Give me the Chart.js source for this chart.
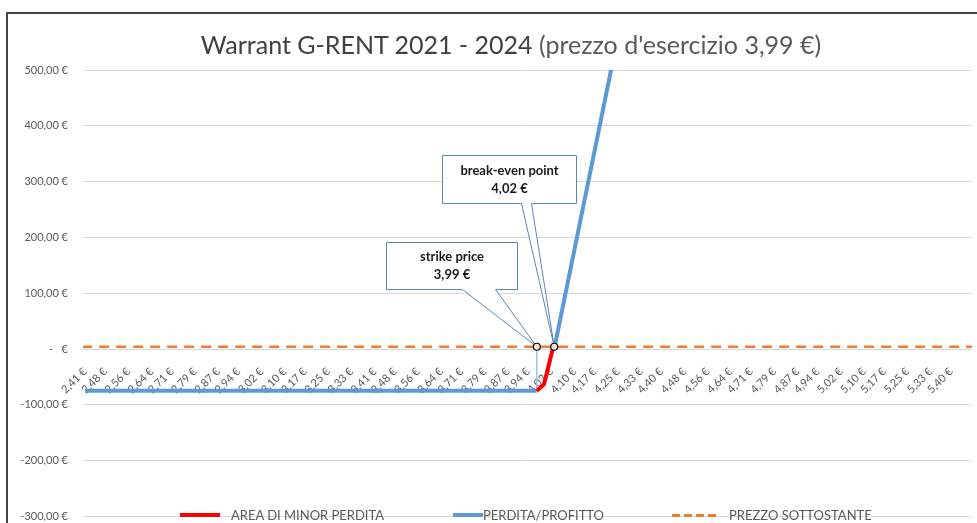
<!DOCTYPE html>
<html>
<head>
<meta charset="utf-8">
<script src="https://cdn.jsdelivr.net/npm/chart.js@4.4.0/dist/chart.umd.min.js"></script>
<style>
html, body { margin: 0; padding: 0; background: #fff; }
#wrap { position: relative; width: 977px; height: 523px; overflow: hidden; font-family: Lato, "Open Sans", sans-serif; }
#frame { position: absolute; left: 6px; top: 12px; width: 990px; height: 530px; border-left: 2px solid #444; border-top: 2px solid #444; }
#chart { position: absolute; left: 0; top: 0; }
#title { position: absolute; left: 0; top: 29px; width: 1022px; text-align: center; font-size: 25px; line-height: 30px; color: #595959; white-space: nowrap; }
#title .main { color: #404040; }
.leg { position: absolute; top: 507px; height: 16px; font-size: 13px; line-height: 16px; color: #595959; white-space: nowrap; display: flex; align-items: center; }
.leg .sw { display: inline-block; height: 4px; }
</style>
</head>
<body>
<div id="wrap">
  <canvas id="chart" width="977" height="538"></canvas>
  <div id="frame"></div>
  <div id="title"><span class="main">Warrant G-RENT 2021 - 2024</span> (prezzo d'esercizio 3,99 €)</div>
  <div class="leg" style="left:180px"><span class="sw" style="width:40px;background:#FF0000;margin-right:11px"></span>AREA DI MINOR PERDITA</div>
  <div class="leg" style="left:453px"><span class="sw" style="width:30px;background:#5B9BD5"></span>PERDITA/PROFITTO</div>
  <div class="leg" style="left:672px"><span class="sw" style="width:48px;height:3px;background:repeating-linear-gradient(to right,#ED7D31 0 8px,transparent 8px 12px);margin-right:9px"></span>PREZZO SOTTOSTANTE</div>
</div>
<script>
// prezzi del sottostante mostrati sull'asse
const tickLabels = ['2,41 €', '2,48 €', '2,56 €', '2,64 €', '2,71 €', '2,79 €', '2,87 €', '2,94 €',
  '3,02 €', '3,10 €', '3,17 €', '3,25 €', '3,33 €', '3,41 €', '3,48 €', '3,56 €', '3,64 €', '3,71 €',
  '3,79 €', '3,87 €', '3,94 €', '4,02 €', '4,10 €', '4,17 €', '4,25 €', '4,33 €', '4,40 €', '4,48 €',
  '4,56 €', '4,64 €', '4,71 €', '4,79 €', '4,87 €', '4,94 €', '5,02 €', '5,10 €', '5,17 €', '5,25 €',
  '5,33 €', '5,40 €'];
const tickValues = tickLabels.map(function (t) { return parseFloat(t.replace(',', '.')); });

const perditaProfitto = [
  { x: 2.41, y: -75 }, { x: 3.97, y: -75 }, { x: 4.00, y: null },
  { x: 4.03, y: 0 }, { x: 4.25, y: 560 }
];
const areaMinorPerdita = [{ x: 3.97, y: -75 }, { x: 3.995, y: -63 }, { x: 4.025, y: 0 }];
const prezzoSottostante = [{ x: 2.40, y: 4 }, { x: 5.48, y: 4 }];
const puntiChiave = [{ x: 3.97, y: 4 }, { x: 4.03, y: 4 }];

// fumetti
const callouts = [
  { x: 3.97, y: 4, text: ['strike price', '3,99 €'], dx: -151, dy: -105, w: 131, h: 47, b0: 76, b1: 109, drop: -75 },
  { x: 4.03, y: 4, text: ['break-even point', '4,02 €'], dx: -112, dy: -192, w: 134, h: 48, b0: 79, b1: 89 }
];

const calloutPlugin = {
  id: 'callouts',
  beforeDatasetsDraw: function (chart) {
    const ctx = chart.ctx;
    const xs = chart.scales.x, ys = chart.scales.y;
    ctx.save();
    callouts.forEach(function (c) {
      const px = xs.getPixelForValue(c.x), py = ys.getPixelForValue(c.y);
      if (c.drop !== undefined) {
        ctx.strokeStyle = '#9DC3E6';
        ctx.lineWidth = 1.5;
        ctx.beginPath();
        ctx.moveTo(px, py);
        ctx.lineTo(px, ys.getPixelForValue(c.drop));
        ctx.stroke();
      }
      const left = Math.round(px + c.dx) + 0.5, top = Math.round(py + c.dy) + 0.5;
      ctx.fillStyle = '#fff';
      ctx.strokeStyle = '#5B86B5';
      ctx.lineWidth = 1;
      ctx.beginPath();
      ctx.moveTo(left, top);
      ctx.lineTo(left + c.w, top);
      ctx.lineTo(left + c.w, top + c.h);
      ctx.lineTo(left + c.b1, top + c.h);
      ctx.lineTo(px, py);
      ctx.lineTo(left + c.b0, top + c.h);
      ctx.lineTo(left, top + c.h);
      ctx.closePath();
      ctx.fill();
      ctx.stroke();
      ctx.fillStyle = '#1a1a1a';
      ctx.font = 'bold 13px Lato';
      ctx.textAlign = 'center';
      ctx.textBaseline = 'middle';
      ctx.fillText(c.text[0], left + c.w / 2, top + c.h / 2 - 9);
      ctx.fillText(c.text[1], left + c.w / 2, top + c.h / 2 + 9);
    });
    ctx.restore();
  }
};

Chart.defaults.font.family = 'Lato';
Chart.defaults.color = '#595959';

new Chart(document.getElementById('chart'), {
  type: 'line',
  data: {
    datasets: [
      {
        label: 'punti', data: puntiChiave, showLine: false, order: -1,
        pointRadius: 3.5, pointBackgroundColor: '#FBE5D6', pointBorderColor: '#000', pointBorderWidth: 1.2
      },
      {
        label: 'AREA DI MINOR PERDITA', data: areaMinorPerdita, order: 0,
        borderColor: '#FF0000', borderWidth: 4, pointRadius: 0
      },
      {
        label: 'PERDITA/PROFITTO', data: perditaProfitto, order: 1, spanGaps: false,
        borderColor: '#5B9BD5', borderWidth: 4, pointRadius: 0
      },
      {
        label: 'PREZZO SOTTOSTANTE', data: prezzoSottostante, order: 2,
        borderColor: '#ED7D31', borderWidth: 2.5, borderDash: [10, 7], pointRadius: 0
      }
    ]
  },
  options: {
    responsive: false,
    animation: false,
    devicePixelRatio: 1,
    layout: { padding: { top: 70, right: 4, bottom: 8, left: 0 } },
    plugins: { legend: { display: false }, tooltip: { enabled: false } },
    scales: {
      x: {
        type: 'linear',
        position: { y: 0 },
        min: 2.403,
        max: 5.472,
        afterBuildTicks: function (s) { s.ticks = tickValues.map(function (v) { return { value: v }; }); },
        grid: { display: false },
        border: { display: false },
        ticks: {
          autoSkip: false, minRotation: 45, maxRotation: 45, padding: 8,
          font: { size: 11 }, color: '#595959',
          callback: function (v, i) { return tickLabels[i]; }
        }
      },
      y: {
        min: -300,
        max: 500,
        afterFit: function (s) { s.width = 83; },
        grid: { color: '#D9D9D9', lineWidth: 1, drawTicks: false },
        border: { display: false },
        ticks: {
          stepSize: 100, padding: 15, font: { size: 11 }, color: '#595959',
          callback: function (v) { return v === 0 ? '-   €' : v.toFixed(2).replace('.', ',') + ' €'; }
        }
      }
    }
  },
  plugins: [calloutPlugin]
});
</script>
</body>
</html>
